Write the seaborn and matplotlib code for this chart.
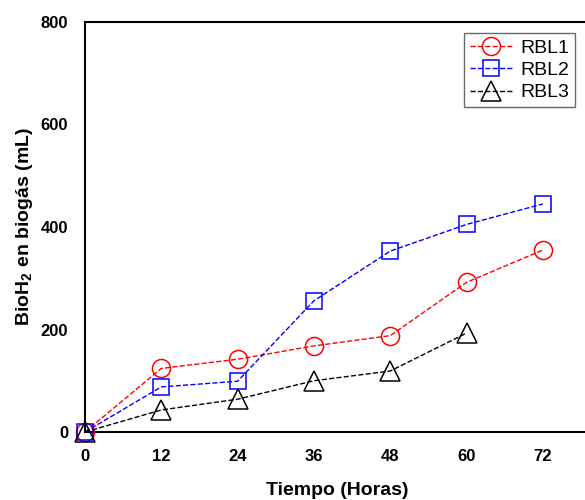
import matplotlib
matplotlib.use("Agg")
import matplotlib.pyplot as plt
import seaborn as sns
import pandas as pd

hours = [0, 12, 24, 36, 48, 60, 72]
rbl1 = [0, 124, 142, 168, 188, 292, 355]
rbl2 = [0, 88, 99, 256, 353, 405, 445]
rbl3 = [0, 43, 64, 100, 119, 193]
series_names = ["RBL1", "RBL2", "RBL3"]
x_ticks = [0, 12, 24, 36, 48, 60, 72]
y_ticks = [0, 200, 400, 600, 800]

sns.set_theme(style="white")
plt.rcParams['font.family'] = ['Liberation Sans', 'DejaVu Sans']
plt.rcParams['mathtext.fontset'] = 'custom'
plt.rcParams['mathtext.rm'] = 'Liberation Sans:bold'
plt.rcParams['mathtext.bf'] = 'Liberation Sans:bold'
plt.rcParams['mathtext.default'] = 'bf'
plt.rcParams['text.color'] = 'black'
plt.rcParams['axes.labelcolor'] = 'black'
plt.rcParams['xtick.color'] = 'black'
plt.rcParams['ytick.color'] = 'black'

fig = plt.figure(figsize=(5.85, 5.0), dpi=100)
ax = fig.add_axes([0.1453, 0.136, 0.862, 0.820])

styles = [
    dict(color="red", marker="o", markersize=13, dashes=(4, 3)),
    dict(color="blue", marker="s", markersize=12, dashes=(3, 3)),
    dict(color="black", marker="^", markersize=15, dashes=(4, 3)),
]
data = [rbl1, rbl2, rbl3]
for name, vals, st in zip(series_names, data, styles):
    df = pd.DataFrame({"x": hours[:len(vals)], "y": vals})
    sns.lineplot(data=df, x="x", y="y", ax=ax, color=st["color"], marker=st["marker"],
                 markersize=st["markersize"], mfc="none", mec=st["color"], mew=1.1,
                 linewidth=1.0, linestyle="--", dashes=st["dashes"], label=name,
                 clip_on=False, zorder=3)

ax.set_xlim(0, 79.3)
ax.set_ylim(0, 800)
ax.set_xticks(x_ticks)
ax.set_yticks(y_ticks)
ax.tick_params(axis="x", length=0, labelsize=12, pad=12, colors="black")
ax.tick_params(axis="y", length=0, labelsize=12, pad=12, colors="black")
for lab in ax.get_xticklabels() + ax.get_yticklabels():
    lab.set_fontweight("bold")
for sp in ax.spines.values():
    sp.set_color("black")
    sp.set_linewidth(1.5)
ax.set_xlabel("Tiempo (Horas)", fontsize=14, fontweight="bold", labelpad=13, color="black")
ax.set_ylabel("BioH$_2$ en biogás (mL)", fontsize=14, fontweight="bold", labelpad=4, color="black")

leg = ax.legend(loc="upper right", bbox_to_anchor=(0.9716, 0.973), borderaxespad=0,
                fontsize=14, frameon=True, fancybox=False, edgecolor="#444444",
                handlelength=2.2, handletextpad=0.4, borderpad=0.3, labelspacing=0.25)
leg.get_frame().set_linewidth(1.0)
for t in leg.get_texts():
    t.set_color("black")

fig.savefig("out.png", dpi=100)
